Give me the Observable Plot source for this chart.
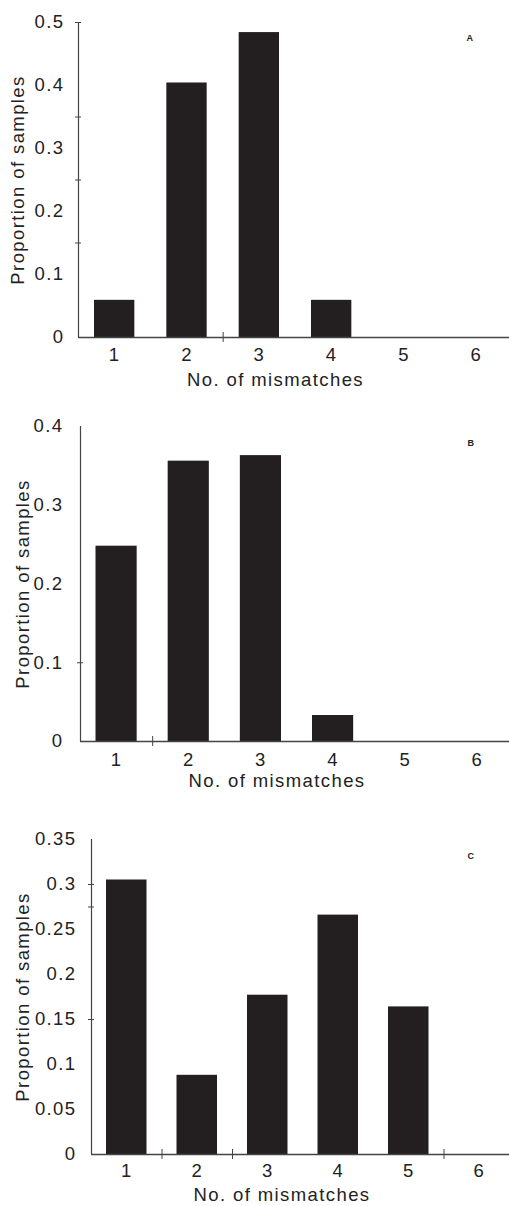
<!DOCTYPE html>
<html>
<head>
<meta charset="utf-8">
<script src="https://cdn.jsdelivr.net/npm/d3@7"></script>
<script src="https://cdn.jsdelivr.net/npm/@observablehq/plot@0.6"></script>
<style>
  html, body { margin: 0; padding: 0; background: #fff; }
  #chart svg { display: block; }
</style>
</head>
<body>
<div id="chart"></div>
<script>
// ---- data ----
const mismatches = [1, 2, 3, 4, 5, 6];
const panelA = [0.059, 0.404, 0.484, 0.059, 0, 0];
const panelB = [0.248, 0.356, 0.363, 0.033, 0, 0];
const panelC = [0.305, 0.088, 0.177, 0.266, 0.164, 0];
const yTicksA = [0, 0.1, 0.2, 0.3, 0.4, 0.5];
const yTicksB = [0, 0.1, 0.2, 0.3, 0.4];
const yTicksC = [0, 0.05, 0.1, 0.15, 0.2, 0.25, 0.3, 0.35];
const xMarksA = [2.5];
const xMarksB = [1.5];
const xMarksC = [1.5, 2.5, 5.5];
const yMarksA = [0.5, 0.35, 0.25, 0.15];
const yMarksB = [0.1];
const yMarksC = [0.3, 0.275, 0.15];
const panelLabels = ["A", "B", "C"];
const xTitle = "No. of mismatches";
const yTitle = "Proportion of samples";

const fmt = d => String(Math.round(d * 100) / 100);
const barColor = "#231f20";
const axisColor = "#444";

function panel(values, cfg) {
  const data = mismatches.map((k, i) => ({k, v: values[i]}));
  const ymax = cfg.yTicks[cfg.yTicks.length - 1];
  return Plot.plot({
    width: 509,
    height: cfg.height,
    marginTop: cfg.mt,
    marginBottom: cfg.mb,
    marginLeft: cfg.ml,
    marginRight: cfg.mr,
    style: {fontFamily: "'Liberation Sans', Arial, sans-serif", fontSize: "18.5px", letterSpacing: "1.4px", color: "#222", background: "#fff", overflow: "visible"},
    x: {domain: [0.5, 6.5], axis: null},
    y: {domain: [0, ymax], axis: null},
    marks: [
      Plot.rectY(data, {x1: d => d.k - 0.5, x2: d => d.k + 0.5, y1: 0, y2: "v", fill: barColor, insetLeft: cfg.inset, insetRight: cfg.inset}),
      Plot.ruleY([0], {stroke: axisColor, strokeWidth: 1.3}),
      Plot.ruleX([0.5], {y1: 0, y2: ymax, stroke: axisColor, strokeWidth: 1.2}),
      Plot.ruleX(cfg.xMarks, {x: d => d, y1: 0, y2: 0, insetTop: -5, insetBottom: -5, stroke: axisColor, strokeWidth: 1}),
      Plot.ruleY(cfg.yMarks, {y: d => d, x1: 0.5, x2: 0.5, insetLeft: -3, insetRight: -3, stroke: axisColor, strokeWidth: 1}),
      Plot.axisX(mismatches, {tickSize: 0, tickPadding: cfg.xpad, tickFormat: d => String(d), label: null, fill: "#222"}),
      Plot.axisY(cfg.yTicks, {x: 0.5, tickSize: 0, tickPadding: cfg.ypad, tickFormat: fmt, label: null, fill: "#222", anchor: "left"}),
      Plot.text([xTitle], {frameAnchor: "bottom", dx: cfg.xtdx, dy: cfg.xtdy, text: d => d, textAnchor: "middle", lineAnchor: "middle", fill: "#222"}),
      Plot.text([yTitle], {frameAnchor: "left", rotate: -90, dx: cfg.ytdx, text: d => d, textAnchor: "middle", lineAnchor: "middle", fill: "#222"}),
      Plot.text([cfg.label], {frameAnchor: "top-left", dx: cfg.ldx, dy: cfg.ldy, text: d => d, fontSize: 9, fontWeight: "bold", textAnchor: "middle", lineAnchor: "middle", fill: "#222"})
    ]
  });
}

const root = document.getElementById("chart");
root.appendChild(panel(panelA, {height: 400, mt: 22, mb: 63, ml: 78, mr: -3, inset: 16,
  yTicks: yTicksA, xMarks: xMarksA, yMarks: yMarksA, xpad: 10, ypad: 14,
  xtdx: -20, xtdy: 43, ytdx: -60.5, label: panelLabels[0], ldx: 392, ldy: 16}));
root.appendChild(panel(panelB, {height: 400, mt: 26, mb: 59, ml: 80, mr: -4, inset: 15.5,
  yTicks: yTicksB, xMarks: xMarksB, yMarks: yMarksB, xpad: 11, ypad: 17,
  xtdx: -20, xtdy: 40, ytdx: -57.5, label: panelLabels[1], ldx: 391, ldy: 17}));
root.appendChild(panel(panelC, {height: 406, mt: 39, mb: 52, ml: 91, mr: -5, inset: 15,
  yTicks: yTicksC, xMarks: xMarksC, yMarks: yMarksC, xpad: 9, ypad: 15,
  xtdx: -21, xtdy: 41, ytdx: -68, label: panelLabels[2], ldx: 380, ldy: 17}));
</script>
</body>
</html>
